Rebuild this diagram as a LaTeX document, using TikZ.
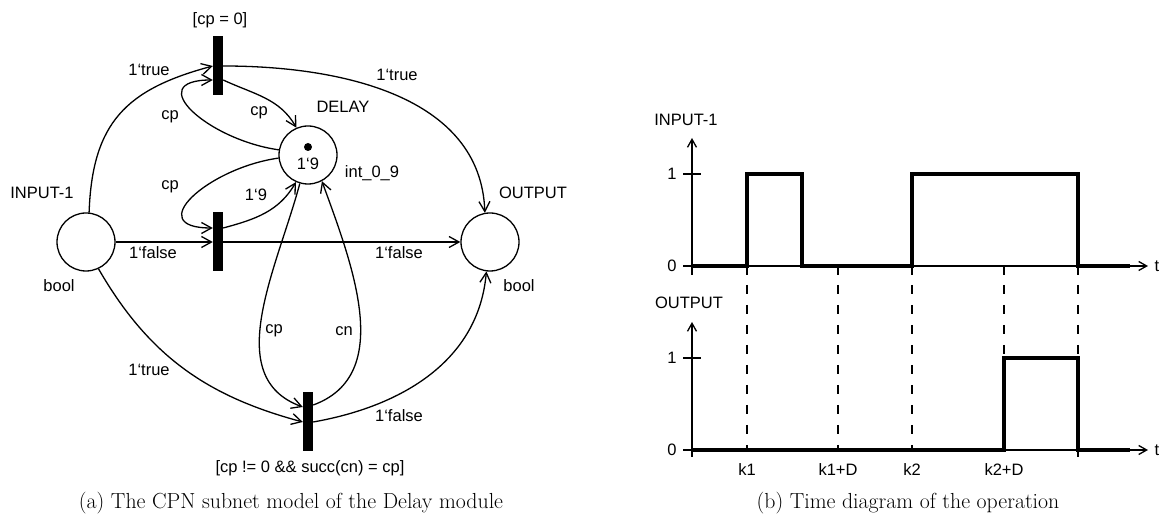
\documentclass[tikz,border=0pt]{standalone}
\usepackage{fontspec}
\newfontfamily\lblsans{Liberation Sans}
\usetikzlibrary{arrows.meta}
\tikzset{
  place/.style={circle,draw,line width=1.3pt,minimum size=58pt,inner sep=0pt},
  trans/.style={rectangle,fill=black,minimum width=10pt,minimum height=59pt,inner sep=0pt},
  lbl/.style={font=\lblsans\fontsize{16.5}{19}\selectfont,inner sep=0pt},
  arc/.style={-{Straight Barb[length=10pt,width=11pt]},line width=1.3pt},
  axis/.style={-{Straight Barb[length=8pt,width=9pt]},line width=1.3pt},
  sig/.style={line width=3.3pt},
  guide/.style={line width=1.3pt,dash pattern=on 9pt off 11pt},
  capt/.style={font=\fontsize{21.8}{26}\selectfont,inner sep=0pt}
}
\begin{document}
\begin{tikzpicture}[x=1pt,y=1pt]
    \useasboundingbox (0,0) rectangle (1165,518);
    % places
    \node[place] (in1) at (86,276) {};
    \node[place] (delay) at (308,363) {};
    \node[place] (out) at (490,276) {};
    % transitions
    \node[trans] (t1) at (218,452) {};
    \node[trans] (t2) at (218,276) {};
    \node[trans] (t3) at (308,96) {};
    
    % names, colour sets, marking, guards
    \node[lbl] (nin) at (42,325) {INPUT-1};
    \node[lbl] (nout) at (533,325) {OUTPUT};
    \node[lbl] (ndel) at (343,411) {DELAY};
    \node[lbl] (cin) at (59,232) {bool};
    \node[lbl] (cout) at (519,232) {bool};
    \node[lbl] (cdel) at (372,345) {int\_0\_9};
    \node[circle,fill,inner sep=0pt,minimum size=8pt] (tok) at (308,371) {};
    \node[lbl] (mdel) at (308,354) {1‘9};
    \node[lbl] (g1) at (220,498) {[cp = 0]};
    \node[lbl] (g3) at (310,50) {[cp != 0 \&\& succ(cn) = cp]};
    
    % arcs of t1
    \draw[arc] (in1.84) to[out=88,in=195,looseness=1.2] (t1.west);
    \draw[arc] (t1.east) to[out=0,in=92] (out.100);
    \draw[arc] ([yshift=-14pt]t1.east) to[out=-25,in=120] (delay.113);
    \draw[arc] (delay.170) to[out=172,in=180,looseness=1.9] ([yshift=-14pt]t1.west);
    % arcs of t2
    \draw[arc] (delay.186) to[out=188,in=180,looseness=1.9] ([yshift=14pt]t2.west);
    \draw[arc] ([yshift=14pt]t2.east) to[out=15,in=240] (delay.246);
    \draw[arc] (in1) -- (t2);
    \draw[arc] (t2) -- (out);
    % arcs of t3
    \draw[arc] (delay.254) to[out=255,in=160] ([yshift=15pt]t3.west);
    \draw[arc] ([yshift=17pt]t3.east) to[out=20,in=290] (delay.298);
    \draw[arc] (in1.295) to[out=300,in=165] (t3.west);
    \draw[arc] (t3.east) to[out=10,in=265] (out.263);
    
    % arc inscriptions
    \node[lbl] (a1) at (149,448) {1‘true};
    \node[lbl] (a2) at (397,443) {1‘true};
    \node[lbl] (a3) at (259,405) {cp};
    \node[lbl] (a4) at (170,401) {cp};
    \node[lbl] (a5) at (170,331) {cp};
    \node[lbl] (a6) at (256,323) {1‘9};
    \node[lbl] (a7) at (153,265) {1‘false};
    \node[lbl] (a8) at (399,265) {1‘false};
    \node[lbl] (a9) at (274,187) {cp};
    \node[lbl] (a10) at (344,187) {cn};
    \node[lbl] (a11) at (149,148) {1‘true};
    \node[lbl] (a12) at (399,102) {1‘false};
    
    % time diagram: axes
    \draw[axis] (683,252) -- (1148,252);
    \draw[axis] (692,243) -- (692,380);
    \draw[line width=1.3pt] (683,344) -- (701,344);
    \draw[axis] (683,68) -- (1148,68);
    \draw[axis] (692,61) -- (692,196);
    \draw[line width=1.3pt] (683,160) -- (701,160);
    \foreach \x in {747,838,912,1004,1078}
        \draw[line width=1.3pt] (\x,252) -- (\x,243);
    \draw[line width=1.3pt] (1078,68) -- (1078,61);
    \foreach \x in {747,838,912,1004,1078}
        \draw[guide] (\x,233) -- (\x,70);
    
    % signals
    \draw[sig] (692,252) -- (747,252) -- (747,344) -- (802,344) -- (802,252) -- (912,252)
        -- (912,344) -- (1078,344) -- (1078,252) -- (1130,252);
    \draw[sig] (692,68) -- (1004,68) -- (1004,160) -- (1078,160) -- (1078,68) -- (1130,68);
    
    % axis labels
    \node[lbl] (yin) at (686,398) {INPUT-1};
    \node[lbl] (yout) at (689,215) {OUTPUT};
    \node[lbl] (zin) at (672,252) {0};
    \node[lbl] (oin) at (672,344) {1};
    \node[lbl] (zout) at (672,68) {0};
    \node[lbl] (oout) at (672,160) {1};
    \node[lbl] (tin) at (1157,252) {t};
    \node[lbl] (tout) at (1157,68) {t};
    \node[lbl] (k1) at (747,48) {k1};
    \node[lbl] (k1d) at (838,48) {k1+D};
    \node[lbl] (k2) at (912,48) {k2};
    \node[lbl] (k2d) at (1004,48) {k2+D};
    
    % captions
    \node[capt] (capa) at (291,15) {(a) The CPN subnet model of the Delay module};
    \node[capt] (capb) at (908,15) {(b) Time diagram of the operation};
\end{tikzpicture}
\end{document}
